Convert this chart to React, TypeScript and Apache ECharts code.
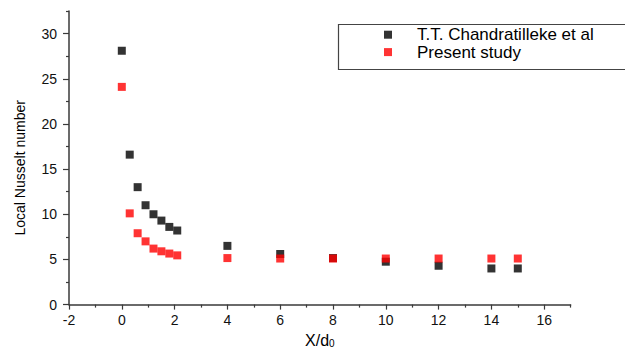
import React, { useEffect, useRef } from "react";
import * as echarts from "echarts";

const xValues = [0, 0.3, 0.6, 0.9, 1.2, 1.5, 1.8, 2.1, 4, 6, 8, 10, 12, 14, 15];
const chandratillekeNu = [28.1, 16.6, 13.0, 11.0, 10.0, 9.3, 8.6, 8.2, 6.5, 5.6, 5.15, 4.75, 4.3, 4.0, 4.0];
const presentStudyNu = [24.1, 10.1, 7.9, 7.0, 6.2, 5.9, 5.65, 5.45, 5.15, 5.1, 5.1, 5.1, 5.1, 5.1, 5.1];

const xMajorTicks = [-2, 0, 2, 4, 6, 8, 10, 12, 14, 16];
const xMinorTicks = [-1, 1, 3, 5, 7, 9, 11, 13, 15, 17];
const yMajorTicks = [0, 5, 10, 15, 20, 25, 30];
const yMinorTicks = [2.5, 7.5, 12.5, 17.5, 22.5, 27.5, 32.5];

const seriesNames = ["T.T. Chandratilleke et al", "Present study"];

export default function App() {
  const ref = useRef<HTMLDivElement>(null);
  useEffect(() => {
    if (!ref.current) return;
    const chart = echarts.init(ref.current, undefined, { renderer: "svg" });
    const font = "'Liberation Sans', Arial, sans-serif";
    const axisColor = "#3a3a3a";
    const toPairs = (ys: number[]) => xValues.map((x, i) => [x, ys[i]]);
    chart.setOption({
      animation: false,
      backgroundColor: "#ffffff",
      grid: { left: 69, right: 54.4, top: 11, bottom: 44.4, containLabel: false, outerBoundsMode: "none" },
      xAxis: [
        {
          type: "value",
          min: -2,
          max: 17,
          interval: 2,
          name: "X/d{sub|0}",
          nameLocation: "middle",
          nameGap: 25,
          nameTextStyle: {
            fontFamily: font,
            fontSize: 16,
            lineHeight: 17,
            color: "#000",
            verticalAlign: "top",
            rich: { sub: { fontFamily: font, fontSize: 10, lineHeight: 10, color: "#000", padding: [7, 0, 0, 0] } },
          },
          axisLine: { show: true, onZero: false, lineStyle: { color: axisColor, width: 1.5 } },
          axisTick: { show: true, inside: false, length: 5, customValues: xMajorTicks, lineStyle: { color: axisColor, width: 1.2 } },
          axisLabel: { customValues: xMajorTicks, fontFamily: font, fontSize: 14, color: "#111", margin: 8 },
          splitLine: { show: false },
        },
        {
          type: "value",
          min: -2,
          max: 17,
          position: "bottom",
          offset: 0,
          axisLine: { show: false, onZero: false },
          axisTick: { show: true, inside: false, length: 3, customValues: xMinorTicks, lineStyle: { color: axisColor, width: 1.2 } },
          axisLabel: { show: false },
          splitLine: { show: false },
        },
      ],
      yAxis: [
        {
          type: "value",
          min: 0,
          max: 32.5,
          interval: 5,
          name: "Local Nusselt number",
          nameLocation: "middle",
          nameRotate: 90,
          nameGap: 42,
          nameTextStyle: { fontFamily: font, fontSize: 14, color: "#000", padding: [0, 20, 0, 0] },
          axisLine: { show: true, onZero: false, lineStyle: { color: axisColor, width: 1.5 } },
          axisTick: { show: true, inside: false, length: 6, customValues: yMajorTicks, lineStyle: { color: axisColor, width: 1.2 } },
          axisLabel: { customValues: yMajorTicks, fontFamily: font, fontSize: 14, color: "#111", margin: 12 },
          splitLine: { show: false },
        },
        {
          type: "value",
          min: 0,
          max: 32.5,
          position: "left",
          offset: 0,
          axisLine: { show: false, onZero: false },
          axisTick: { show: true, inside: false, length: 3, customValues: yMinorTicks, lineStyle: { color: axisColor, width: 1.2 } },
          axisLabel: { show: false },
          splitLine: { show: false },
        },
      ],
      legend: {
        orient: "vertical",
        left: 384,
        top: 26,
        padding: 0,
        itemGap: 0,
        itemWidth: 8,
        itemHeight: 8,
        icon: "rect",
        data: seriesNames,
        textStyle: { fontFamily: font, fontSize: 17, lineHeight: 17.4, color: "#000", padding: [0, 0, 0, 20] },
      },
      graphic: [
        {
          type: "rect",
          left: 336,
          top: 22,
          shape: { width: 300, height: 45 },
          style: { fill: "none", stroke: "#444", lineWidth: 1.2 },
          silent: true,
          z: -1,
        },
      ],
      series: [
        {
          name: seriesNames[0],
          type: "scatter",
          xAxisIndex: 0,
          yAxisIndex: 0,
          symbol: "rect",
          symbolSize: 8,
          itemStyle: { color: "#000000" },
          data: toPairs(chandratillekeNu),
          z: 2,
        },
        {
          name: seriesNames[1],
          type: "scatter",
          xAxisIndex: 0,
          yAxisIndex: 0,
          symbol: "rect",
          symbolSize: 8,
          itemStyle: { color: "#ff0000" },
          data: toPairs(presentStudyNu),
          z: 3,
        },
      ],
    });
    return () => chart.dispose();
  }, []);
  return <div ref={ref} style={{ position: "fixed", left: 0, top: 0, width: 625, height: 349 }} />;
}
